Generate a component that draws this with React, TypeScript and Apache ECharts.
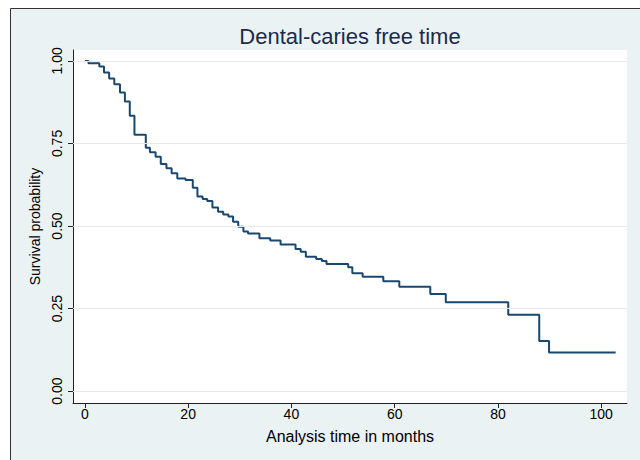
import React, { useEffect, useRef } from "react";
import * as echarts from "echarts";

const TIMES = [0, 0.7, 2.8, 3.7, 4.7, 5.7, 6.8, 7.75, 8.7, 9.6, 11.8, 12.6, 13.7, 14.7, 15.8, 16.8, 17.9, 19.5, 20.9, 21.8, 22.8, 23.7, 24.7, 25.8, 26.8, 27.8, 28.7, 29.7, 30.7, 31.6, 33.8, 35.9, 37.9, 40.8, 41.8, 42.8, 44.8, 45.9, 46.8, 51.0, 51.8, 53.8, 57.8, 60.9, 66.9, 69.9, 82.0, 88.0, 89.9, 102.8];
const SURVIVAL = [1.0, 0.993, 0.983, 0.965, 0.947, 0.929, 0.904, 0.877, 0.834, 0.776, 0.737, 0.723, 0.71, 0.688, 0.675, 0.66, 0.644, 0.639, 0.616, 0.589, 0.582, 0.576, 0.556, 0.543, 0.535, 0.529, 0.513, 0.498, 0.483, 0.477, 0.463, 0.456, 0.444, 0.43, 0.422, 0.407, 0.4, 0.394, 0.385, 0.375, 0.357, 0.346, 0.333, 0.316, 0.294, 0.269, 0.231, 0.152, 0.117, 0.117];
const X_TICKS = [0, 20, 40, 60, 80, 100];
const Y_TICKS = [0, 0.25, 0.5, 0.75, 1];

const FONT = "'Liberation Sans', Arial, Helvetica, sans-serif";

export default function App() {
  const ref = useRef<HTMLDivElement>(null);
  useEffect(() => {
    document.body.style.margin = "0";
    const chart = echarts.init(ref.current!, undefined, { renderer: "svg" });
    chart.setOption({
      animation: false,
      backgroundColor: "#ffffff",
      textStyle: { fontFamily: FONT },
      title: {
        text: "Dental-caries free time",
        left: 345,
        top: 20,
        textAlign: "center",
        textStyle: { fontFamily: FONT, fontSize: 22, fontWeight: "normal", color: "#1C2B4B" },
      },
      graphic: [
        {
          type: "rect",
          z: -100,
          silent: true,
          shape: { x: 10.5, y: 8.5, width: 700, height: 500 },
          style: { fill: "#EAF2F3", stroke: "#333333", lineWidth: 1 },
        },
      ],
      grid: {
        left: 73,
        right: 13,
        top: 50,
        bottom: 57,
        show: true,
        backgroundColor: "#ffffff",
        borderWidth: 0,
      },
      xAxis: {
        type: "value",
        min: -2.3,
        max: 105,
        name: "Analysis time in months",
        nameLocation: "middle",
        nameGap: 25,
        nameTextStyle: { fontFamily: FONT, fontSize: 16, color: "#000" },
        axisLine: { show: true, onZero: false, lineStyle: { color: "#222", width: 1 } },
        axisTick: { show: true, length: 5, customValues: X_TICKS, lineStyle: { color: "#222" } },
        axisLabel: { customValues: X_TICKS, fontFamily: FONT, fontSize: 14, color: "#000", margin: 4 },
        splitLine: { show: false },
      },
      yAxis: {
        type: "value",
        min: -0.036,
        max: 1.033,
        name: "Survival probability",
        nameLocation: "middle",
        nameRotate: 90,
        nameGap: 28,
        nameTextStyle: { fontFamily: FONT, fontSize: 14, color: "#000" },
        axisLine: { show: true, onZero: false, lineStyle: { color: "#222", width: 1 } },
        axisTick: { show: true, length: 5, customValues: Y_TICKS, lineStyle: { color: "#222" } },
        axisLabel: {
          customValues: Y_TICKS,
          rotate: 90,
          fontFamily: FONT,
          fontSize: 14,
          color: "#000",
          margin: 9,
          formatter: (v: number) => v.toFixed(2),
        },
        splitLine: { show: false },
      },
      series: [
        {
          type: "line",
          data: [],
          z: 1,
          silent: true,
          markLine: {
            silent: true,
            symbol: "none",
            label: { show: false },
            lineStyle: { color: "#E6E9EA", width: 1, type: "solid" },
            data: Y_TICKS.map((v) => ({ yAxis: v })),
          },
        },
        {
          type: "line",
          step: "end",
          z: 3,
          symbol: "none",
          data: TIMES.map((t, i) => [t, SURVIVAL[i]]),
          lineStyle: { color: "#1A476F", width: 2 },
        },
      ],
    });
    return () => chart.dispose();
  }, []);
  return <div ref={ref} style={{ width: 640, height: 460 }} />;
}
